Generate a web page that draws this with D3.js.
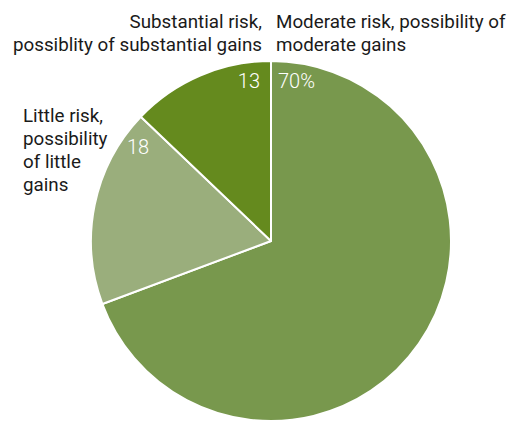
<!DOCTYPE html>
<html>
<head>
<meta charset="utf-8">
<script src="https://cdn.jsdelivr.net/npm/d3@7"></script>
<style>
  html, body { margin: 0; padding: 0; background: #fff; }
  svg { display: block; font-family: "Roboto", "Liberation Sans", sans-serif; }
</style>
</head>
<body>
<svg id="chart" width="528" height="421"></svg>
<script>
// Share of respondents by preferred risk / gain profile
const categories = [
  "Moderate risk, possibility of moderate gains",
  "Little risk, possibility of little gains",
  "Substantial risk, possiblity of substantial gains"
];
const values = [70, 18, 13];
const valueLabels = ["70%", "18", "13"];
const colors = ["#78984d", "#9aae7c", "#658a1e"];

// Category captions, wrapped as they are set beside the pie
const captionLines = [
  ["Moderate risk, possibility of", "moderate gains"],
  ["Little risk,", "possibility", "of little", "gains"],
  ["Substantial risk,", "possiblity of substantial gains"]
];

const svg = d3.select("#chart");
const cx = 271, cy = 241, r = 180;
const g = svg.append("g").attr("transform", `translate(${cx},${cy})`);

const pie = d3.pie().sort(null).value(d => d);
const arcs = pie(values);
const arc = d3.arc().innerRadius(0).outerRadius(r);

g.selectAll("path.slice")
  .data(arcs)
  .join("path")
  .attr("class", "slice")
  .attr("d", arc)
  .attr("fill", (d, i) => colors[i])
  .attr("stroke", "#fff")
  .attr("stroke-width", 2)
  .attr("stroke-linejoin", "round");

// Value labels inside each slice, near its starting or ending edge
const valuePos = [
  { x: 7, y: -153, anchor: "start" },   // just right of the top edge
  { x: -144, y: -87, anchor: "start" },
  { x: -11, y: -153, anchor: "end" }    // just left of the top edge
];
g.selectAll("text.value")
  .data(arcs)
  .join("text")
  .attr("class", "value")
  .attr("x", (d, i) => valuePos[i].x)
  .attr("y", (d, i) => valuePos[i].y)
  .attr("text-anchor", (d, i) => valuePos[i].anchor)
  .attr("fill", "#fff")
  .attr("font-size", 20)
  .attr("font-weight", 300)
  .text((d, i) => valueLabels[i]);

// Category captions outside the pie
const captionPos = [
  { x: 276, y: 28, anchor: "start" },
  { x: 23, y: 122, anchor: "start" },
  { x: 262, y: 28, anchor: "end" }
];
const lineH = 23;
categories.forEach((c, i) => {
  const t = svg.append("text")
    .attr("class", "caption")
    .attr("x", captionPos[i].x)
    .attr("y", captionPos[i].y)
    .attr("text-anchor", captionPos[i].anchor)
    .attr("fill", "#1a1a1a")
    .attr("font-size", 18.8);
  captionLines[i].forEach((line, j) => {
    t.append("tspan")
      .attr("x", captionPos[i].x)
      .attr("dy", j === 0 ? 0 : lineH)
      .text(line);
  });
});
</script>
</body>
</html>
